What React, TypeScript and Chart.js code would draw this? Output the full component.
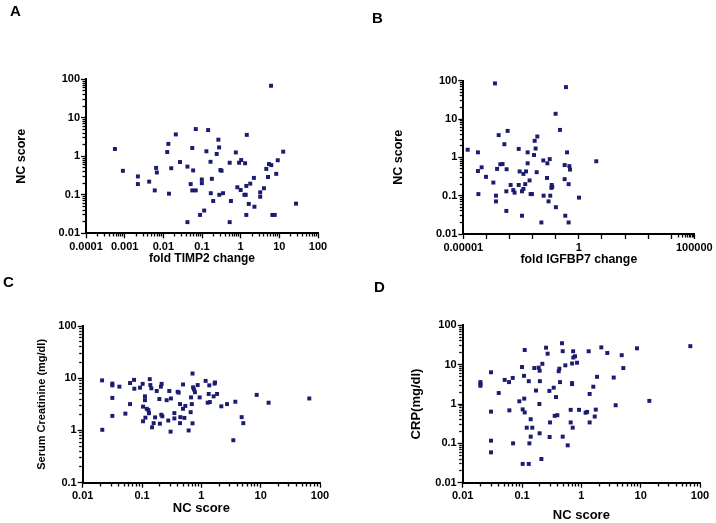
import React, { useEffect, useRef } from 'react';
import { Chart, registerables } from 'chart.js';

Chart.register(...registerables);

const FONT = '"Liberation Sans", Arial, Helvetica, sans-serif';
const DOT = '#1b1b6f';

// ---- Panel A: NC score vs fold TIMP2 change ----
const A_TIMP2 = [0.00056, 0.0009, 0.0022, 0.0022, 0.0043, 0.006, 0.0065, 0.0068, 0.0126, 0.0135, 0.014, 0.016, 0.021, 0.027, 0.042, 0.042, 0.051, 0.056, 0.056, 0.059, 0.069, 0.069, 0.089, 0.099, 0.099, 0.114, 0.13, 0.144, 0.166, 0.169, 0.18, 0.195, 0.24, 0.265, 0.277, 0.28, 0.3, 0.32, 0.35, 0.52, 0.52, 0.56, 0.75, 0.82, 0.91, 1.0, 1.03, 1.3, 1.25, 1.35, 1.44, 1.4, 1.4, 1.62, 1.77, 2.2, 2.27, 3.2, 3.2, 4.0, 4.6, 5.1, 5.4, 6.2, 6.1, 6.6, 7.6, 8.3, 9.1, 12.6, 27];
const A_NC = [1.55, 0.42, 0.3, 0.19, 0.22, 0.13, 0.5, 0.38, 1.29, 2.1, 0.107, 0.49, 3.7, 0.71, 0.54, 0.0195, 0.19, 1.64, 0.13, 0.43, 5.1, 0.13, 0.03, 0.25, 0.2, 0.039, 1.35, 4.8, 0.72, 0.11, 0.26, 0.069, 1.15, 2.7, 1.7, 0.1, 0.44, 0.42, 0.11, 0.68, 0.0195, 0.069, 1.26, 0.157, 0.68, 0.133, 0.8, 0.66, 0.1, 0.1, 3.6, 0.17, 0.03, 0.058, 0.195, 0.275, 0.049, 0.116, 0.089, 0.148, 0.47, 0.29, 0.63, 0.59, 68, 0.03, 0.03, 0.35, 0.79, 1.32, 0.059];

// ---- Panel B: NC score vs fold IGFBP7 change ----
const B_IGFBP7 = [1.55e-5, 4.3e-5, 4.3e-5, 4.5e-5, 6.2e-5, 9.6e-5, 2.0e-4, 2.35e-4, 2.6e-4, 2.6e-4, 2.9e-4, 3.4e-4, 4.0e-4, 5.0e-4, 6.0e-4, 7.5e-4, 8.3e-4, 7.3e-4, 7.3e-4, 1.12e-3, 1.46e-3, 1.66e-3, 2.5e-3, 2.5e-3, 2.75e-3, 3.47e-3, 3.47e-3, 4.0e-3, 4.0e-3, 4.8e-3, 5.2e-3, 6.1e-3, 6.1e-3, 7.4e-3, 8.2e-3, 9.4e-3, 0.0115, 0.0123, 0.0135, 0.015, 0.016, 0.024, 0.029, 0.03, 0.042, 0.0435, 0.049, 0.055, 0.058, 0.065, 0.067, 0.071, 0.099, 0.102, 0.153, 0.244, 0.244, 0.26, 0.278, 0.31, 0.363, 0.363, 0.39, 0.417, 1.02, 5.7];
const B_NC = [1.58, 1.35, 0.44, 0.11, 0.55, 0.31, 0.22, 85, 0.1, 0.071, 0.5, 3.8, 0.66, 0.67, 2.2, 0.49, 4.9, 0.13, 0.04, 0.19, 0.14, 0.12, 1.66, 0.19, 0.43, 0.13, 0.03, 0.37, 0.15, 0.2, 0.43, 1.35, 0.7, 0.25, 0.11, 0.11, 1.15, 2.7, 1.7, 0.41, 3.5, 0.02, 0.83, 0.1, 0.29, 0.7, 0.071, 0.9, 0.1, 0.16, 0.19, 0.17, 13.7, 0.05, 5.2, 0.27, 0.63, 0.03, 68, 1.35, 0.02, 0.2, 0.59, 0.48, 0.089, 0.79];

// ---- Panel C: Serum creatinine vs NC score ----
const C_NC = [0.0212, 0.0214, 0.0316, 0.0316, 0.0316, 0.0316, 0.0415, 0.0524, 0.0628, 0.0628, 0.0733, 0.0742, 0.0925, 0.1025, 0.104, 0.104, 0.112, 0.112, 0.114, 0.12, 0.128, 0.135, 0.138, 0.1435, 0.131, 0.1475, 0.157, 0.166, 0.177, 0.196, 0.2, 0.208, 0.211, 0.214, 0.22, 0.26, 0.277, 0.288, 0.303, 0.307, 0.351, 0.351, 0.399, 0.415, 0.437, 0.437, 0.442, 0.491, 0.491, 0.517, 0.537, 0.611, 0.66, 0.67, 0.69, 0.725, 0.71, 0.71, 0.75, 0.78, 0.867, 0.937, 1.18, 1.28, 1.33, 1.36, 1.39, 1.61, 1.67, 1.7, 1.84, 2.17, 2.71, 3.74, 3.46, 4.78, 5.1, 8.57, 13.6, 66];
const C_CREAT = [9.1, 1.03, 7.9, 7.3, 4.2, 1.9, 6.9, 2.1, 3.2, 8.1, 9.3, 6.3, 6.6, 7.8, 2.86, 1.5, 4.5, 3.8, 1.76, 2.6, 2.45, 9.6, 7.4, 6.4, 2.14, 1.15, 1.38, 1.78, 5.7, 4.0, 1.35, 6.9, 2.0, 7.8, 1.87, 3.8, 1.55, 5.7, 0.95, 4.1, 2.15, 1.7, 5.5, 5.3, 3.2, 1.38, 1.8, 7.6, 2.6, 1.74, 2.95, 1.0, 2.24, 4.3, 3.2, 6.7, 12.3, 1.37, 6.1, 5.4, 7.4, 4.3, 8.9, 3.4, 5.0, 7.3, 3.5, 4.5, 7.9, 8.3, 5.0, 2.9, 3.2, 3.55, 0.65, 1.8, 1.38, 4.8, 3.4, 4.1];

// ---- Panel D: CRP vs NC score ----
const D_NC = [0.0199, 0.0199, 0.0199, 0.03, 0.03, 0.03, 0.03, 0.0405, 0.051, 0.0604, 0.0612, 0.0697, 0.0706, 0.09, 0.1, 0.1026, 0.1026, 0.108, 0.109, 0.111, 0.111, 0.12, 0.13, 0.13, 0.133, 0.14, 0.14, 0.149, 0.161, 0.172, 0.191, 0.196, 0.198, 0.2, 0.198, 0.212, 0.22, 0.254, 0.27, 0.289, 0.296, 0.292, 0.342, 0.355, 0.374, 0.394, 0.415, 0.426, 0.437, 0.472, 0.485, 0.485, 0.537, 0.589, 0.661, 0.661, 0.715, 0.698, 0.698, 0.698, 0.727, 0.733, 0.782, 0.845, 0.914, 1.18, 1.25, 1.33, 1.38, 1.38, 1.59, 1.68, 1.75, 1.84, 2.17, 2.74, 3.51, 3.79, 4.79, 5.1, 8.67, 14.0, 68.7];
const D_CRP = [3.6, 3.2, 2.9, 6.4, 0.64, 0.117, 0.059, 1.9, 4.1, 3.6, 0.69, 4.6, 0.1, 1.17, 8.7, 0.73, 0.03, 5.2, 1.37, 23.6, 0.61, 0.25, 3.8, 0.03, 0.1, 0.41, 0.148, 0.25, 8.2, 2.2, 8.4, 1.0, 7.0, 3.8, 0.18, 0.04, 10.5, 27, 19, 2.15, 0.34, 0.145, 2.6, 0.5, 1.5, 0.52, 6.8, 7.9, 3.6, 35, 22, 0.148, 9.6, 0.089, 0.71, 0.34, 0.25, 10.7, 3.2, 3.4, 21.9, 15.2, 16.3, 11.2, 0.71, 0.6, 0.63, 21.9, 1.8, 0.34, 2.75, 0.48, 0.72, 4.9, 27.5, 19.8, 4.7, 0.93, 17.4, 8.2, 26, 1.2, 29.5];

// ---- Tick values and labels ----
const TIMP2_TICKS = [0.0001, 0.001, 0.01, 0.1, 1, 10, 100];
const TIMP2_LABELS = ['0.0001', '0.001', '0.01', '0.1', '1', '10', '100'];
const IGFBP7_TICKS = [1e-5, 1e-4, 1e-3, 1e-2, 1e-1, 1, 10, 100, 1000, 10000, 100000];
const IGFBP7_LABELS = ['0.00001', '', '', '', '', '1', '', '', '', '', '100000'];
const NC_TICKS = [0.01, 0.1, 1, 10, 100];
const NC_LABELS = ['0.01', '0.1', '1', '10', '100'];
const CREAT_TICKS = [0.1, 1, 10, 100];
const CREAT_LABELS = ['0.1', '1', '10', '100'];
const CRP_TICKS = [0.01, 0.1, 1, 10, 100];
const CRP_LABELS = ['0.01', '0.1', '1', '10', '100'];

type Axis = {
  min: number;
  max: number;
  ticks: number[];
  labels: string[];
  title: string;
  titleSize: number;
  minor: 'all' | 'last';
};

type Panel = {
  letter: string;
  letterPos: { left: number; top: number };
  box: { x: number; y: number; w: number; h: number };
  plot: { l: number; t: number; r: number; b: number };
  yTitleCx: number;
  xTitleCy: number;
  x: Axis;
  y: Axis;
  xs: number[];
  ys: number[];
};

const PANELS: Panel[] = [
  {
    letter: 'A',
    letterPos: { left: 10, top: 2 },
    box: { x: 0, y: 0, w: 358, h: 266 },
    plot: { l: 86, t: 79.3, r: 318, b: 233.3 },
    yTitleCx: 22,
    xTitleCy: 258.5,
    x: { min: 0.0001, max: 100, ticks: TIMP2_TICKS, labels: TIMP2_LABELS, title: 'fold TIMP2 change', titleSize: 12, minor: 'all' },
    y: { min: 0.01, max: 100, ticks: NC_TICKS, labels: NC_LABELS, title: 'NC score', titleSize: 12.5, minor: 'all' },
    xs: A_TIMP2,
    ys: A_NC,
  },
  {
    letter: 'B',
    letterPos: { left: 372, top: 9 },
    box: { x: 358, y: 0, w: 358, h: 266 },
    plot: { l: 463.3, t: 80.7, r: 694.3, b: 234 },
    yTitleCx: 399,
    xTitleCy: 259.5,
    x: { min: 1e-5, max: 1e5, ticks: IGFBP7_TICKS, labels: IGFBP7_LABELS, title: 'fold IGFBP7 change', titleSize: 12.3, minor: 'last' },
    y: { min: 0.01, max: 100, ticks: NC_TICKS, labels: NC_LABELS, title: 'NC score', titleSize: 12.5, minor: 'all' },
    xs: B_IGFBP7,
    ys: B_NC,
  },
  {
    letter: 'C',
    letterPos: { left: 3, top: 273 },
    box: { x: 0, y: 266, w: 358, h: 258 },
    plot: { l: 82.7, t: 326, r: 320, b: 482.7 },
    yTitleCx: 42,
    xTitleCy: 508,
    x: { min: 0.01, max: 100, ticks: NC_TICKS, labels: NC_LABELS, title: 'NC score', titleSize: 13, minor: 'all' },
    y: { min: 0.1, max: 100, ticks: CREAT_TICKS, labels: CREAT_LABELS, title: 'Serum Creatinine (mg/dl)', titleSize: 11, minor: 'all' },
    xs: C_NC,
    ys: C_CREAT,
  },
  {
    letter: 'D',
    letterPos: { left: 374, top: 278 },
    box: { x: 358, y: 266, w: 358, h: 258 },
    plot: { l: 462.7, t: 325.3, r: 700, b: 482.7 },
    yTitleCx: 416,
    xTitleCy: 515,
    x: { min: 0.01, max: 100, ticks: NC_TICKS, labels: NC_LABELS, title: 'NC score', titleSize: 13, minor: 'all' },
    y: { min: 0.01, max: 100, ticks: CRP_TICKS, labels: CRP_LABELS, title: 'CRP(mg/dl)', titleSize: 13, minor: 'all' },
    xs: D_NC,
    ys: D_CRP,
  },
];

function minorValues(ax: Axis): number[] {
  const lo = Math.round(Math.log10(ax.min));
  const hi = Math.round(Math.log10(ax.max));
  const out: number[] = [];
  for (let d = lo; d < hi; d++) {
    if (ax.minor === 'last' && d !== hi - 1) continue;
    for (let k = 2; k <= 9; k++) out.push(k * Math.pow(10, d));
  }
  return out;
}

function majorIndex(ax: Axis, v: number): number {
  for (let i = 0; i < ax.ticks.length; i++) {
    if (Math.abs(Math.log10(ax.ticks[i]) - Math.log10(v)) < 1e-6) return i;
  }
  return -1;
}

function axisOptions(id: 'x' | 'y', ax: Axis, size: number) {
  const all = [...ax.ticks, ...minorValues(ax)].sort((a, b) => a - b);
  const isMinor = (ctx: any) => !!(ctx && ctx.tick && majorIndex(ax, ctx.tick.value) < 0);
  // tick marks are 5px long (4px outside the 2px axis line); minor ticks only show their inner part
  const minorDash = [2.5, 30];
  const minorOffset = id === 'x' ? 0 : 31;
  return {
    type: 'logarithmic' as const,
    position: id === 'x' ? ('bottom' as const) : ('left' as const),
    min: ax.min,
    max: ax.max,
    grid: {
      display: true,
      drawOnChartArea: false,
      drawTicks: true,
      tickLength: 5,
      tickColor: '#000',
      tickWidth: 1.3,
      tickBorderDash: (ctx: any) => (isMinor(ctx) ? minorDash : []),
      tickBorderDashOffset: (ctx: any) => (isMinor(ctx) ? minorOffset : 0),
      color: '#000',
      lineWidth: 1,
    },
    border: { display: true, color: '#000', width: 2 },
    ticks: {
      autoSkip: false,
      maxRotation: 0,
      minRotation: 0,
      padding: id === 'x' ? 2 : 1,
      color: '#000',
      font: { family: FONT, size: 11, weight: 'bold' as const },
      callback: (v: any) => {
        const i = majorIndex(ax, Number(v));
        return i >= 0 ? ax.labels[i] : '';
      },
    },
    title: {
      display: true,
      text: ax.title,
      color: '#000',
      padding: 0,
      font: { family: FONT, size: ax.titleSize, weight: 'bold' as const },
    },
    afterBuildTicks: (s: any) => {
      s.ticks = all.map((v) => ({ value: v }));
    },
    afterFit: (s: any) => {
      if (id === 'x') s.height = size;
      else s.width = size;
      s.paddingLeft = 0;
      s.paddingRight = 0;
      s.paddingTop = 0;
      s.paddingBottom = 0;
    },
  };
}

function makeChart(canvas: HTMLCanvasElement, p: Panel): Chart {
  const lhY = p.y.titleSize * 1.2;
  const lhX = p.x.titleSize * 1.2;
  const padLeft = p.yTitleCx - lhY / 2 - p.box.x;
  const wY = p.plot.l - p.box.x - padLeft;
  const hX = p.xTitleCy + lhX / 2 - p.plot.b;
  const padBottom = p.box.y + p.box.h - p.plot.b - hX;
  const padTop = p.plot.t - p.box.y;
  const padRight = p.box.x + p.box.w - p.plot.r;

  const data = p.xs.map((x, i) => ({ x, y: p.ys[i] }));

  return new Chart(canvas, {
    type: 'scatter',
    data: {
      datasets: [
        {
          data,
          pointStyle: 'rect',
          pointRadius: 2.8,
          backgroundColor: DOT,
          borderColor: DOT,
          borderWidth: 0,
          clip: false as any,
        },
      ],
    },
    options: {
      animation: false,
      responsive: false,
      maintainAspectRatio: false,
      events: [],
      layout: {
        autoPadding: false,
        padding: { left: padLeft, right: padRight, top: padTop, bottom: padBottom },
      },
      plugins: {
        legend: { display: false },
        tooltip: { enabled: false },
        title: { display: false },
      },
      scales: {
        x: axisOptions('x', p.x, hX) as any,
        y: axisOptions('y', p.y, wY) as any,
      },
    },
  });
}

export default function App() {
  const canvases = useRef<(HTMLCanvasElement | null)[]>([]);

  useEffect(() => {
    const charts: Chart[] = [];
    PANELS.forEach((p, i) => {
      const c = canvases.current[i];
      if (c) charts.push(makeChart(c, p));
    });
    return () => charts.forEach((c) => c.destroy());
  }, []);

  return (
    <div
      style={{
        position: 'fixed',
        left: 0,
        top: 0,
        width: 716,
        height: 523,
        background: '#fff',
        overflow: 'hidden',
      }}
    >
      {PANELS.map((p, i) => (
        <React.Fragment key={p.letter}>
          <canvas
            ref={(el) => {
              canvases.current[i] = el;
            }}
            width={p.box.w}
            height={p.box.h}
            style={{ position: 'absolute', left: p.box.x, top: p.box.y, width: p.box.w, height: p.box.h }}
          />
          <div
            style={{
              position: 'absolute',
              left: p.letterPos.left,
              top: p.letterPos.top,
              fontFamily: FONT,
              fontWeight: 'bold',
              fontSize: 15,
              color: '#000',
            }}
          >
            {p.letter}
          </div>
        </React.Fragment>
      ))}
    </div>
  );
}
